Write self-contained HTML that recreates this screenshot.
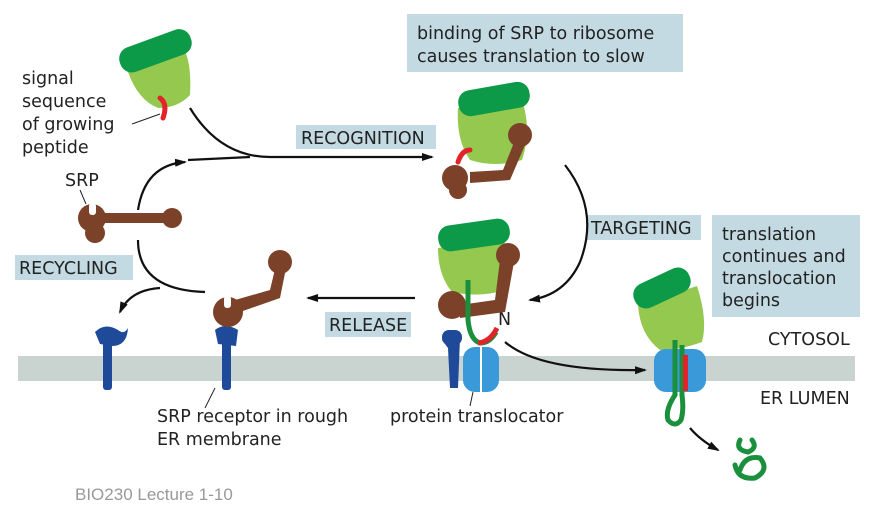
<!DOCTYPE html>
<html><head><style>
body{margin:0;background:#fff}
svg{display:block}
text{font-family:"DejaVu Sans","Liberation Sans",sans-serif;fill:#222}
</style></head><body>
<svg width="870" height="508" viewBox="0 0 870 508" xmlns="http://www.w3.org/2000/svg">
<defs>
<marker id="ah" markerWidth="12" markerHeight="10" refX="10" refY="5" orient="auto" markerUnits="userSpaceOnUse"><path d="M0,1 L12,5 L0,9 Z" fill="#111"/></marker>
</defs>
<rect x="18" y="356" width="837" height="25" fill="#c9d3cf"/>
<rect x="407" y="14" width="276" height="58" fill="#c4dae3"/>
<text x="417" y="39" font-size="17.5">binding of SRP to ribosome</text>
<text x="417" y="62" font-size="17.5">causes translation to slow</text>
<rect x="296" y="125" width="140" height="24" fill="#c4dae3"/>
<text x="301" y="144" font-size="17.5">RECOGNITION</text>
<rect x="586" y="215" width="115" height="25" fill="#c4dae3"/>
<text x="591" y="234" font-size="17.5">TARGETING</text>
<rect x="712" y="215" width="148" height="102" fill="#c4dae3"/>
<text x="722" y="240" font-size="17.5">translation</text>
<text x="722" y="262" font-size="17.5">continues and</text>
<text x="722" y="284" font-size="17.5">translocation</text>
<text x="722" y="306" font-size="17.5">begins</text>
<rect x="325" y="312" width="86" height="25" fill="#c4dae3"/>
<text x="329" y="331" font-size="17.5">RELEASE</text>
<rect x="15" y="255" width="118" height="25" fill="#c4dae3"/>
<text x="19" y="274" font-size="17.5">RECYCLING</text>
<text x="22" y="84" font-size="17.5">signal</text>
<text x="22" y="107" font-size="17.5">sequence</text>
<text x="22" y="130" font-size="17.5">of growing</text>
<text x="22" y="153" font-size="17.5">peptide</text>
<text x="65" y="186" font-size="17.5">SRP</text>
<text x="768" y="345" font-size="17.5">CYTOSOL</text>
<text x="760" y="404" font-size="17.5">ER LUMEN</text>
<text x="157" y="422" font-size="17.5">SRP receptor in rough</text>
<text x="157" y="445" font-size="17.5">ER membrane</text>
<text x="390" y="422" font-size="17.5">protein translocator</text>
<text x="498" y="325" font-size="17.5">N</text>
<text x="75" y="500" font-size="17" style="fill:#999;font-family:'Liberation Sans',sans-serif">BIO230 Lecture 1-10</text>
<line x1="132" y1="124" x2="160" y2="114" stroke="#222"/>
<line x1="80" y1="190" x2="86" y2="204" stroke="#222"/>
<line x1="205" y1="408" x2="215" y2="388" stroke="#222"/>
<line x1="470" y1="406" x2="473" y2="392" stroke="#222"/>
<g fill="none" stroke="#111" stroke-width="2.2">
<path d="M190,108 Q220,157 270,157 L432,157" marker-end="url(#ah)"/>
<path d="M138,210 Q145,165 185,162" marker-end="url(#ah)"/>
<path d="M188,160 L250,157"/>
<path d="M565,165 Q600,210 580,262 Q565,295 530,300" marker-end="url(#ah)"/>
<path d="M415,298 L308,298" marker-end="url(#ah)"/>
<path d="M138,240 Q138,290 205,292"/>
<path d="M160,288 Q130,290 120,312" marker-end="url(#ah)"/>
<path d="M505,342 Q540,372 645,370" marker-end="url(#ah)"/>
<path d="M690,428 Q700,440 718,450" marker-end="url(#ah)"/>
</g>
<!-- ribosome 1 -->
<path d="M128,72 L182,46 Q192,60 190,95 Q178,108 158,108 Q138,100 128,72Z" fill="#95c84f"/>
<rect x="118" y="38" width="75" height="26" rx="12" fill="#0d9a48" transform="rotate(-20 155 51)"/>
<path d="M160,98 Q168,104 163,118" stroke="#e2232a" stroke-width="5" fill="none" stroke-linecap="round"/>
<!-- SRP free -->
<g fill="#7b4129">
<circle cx="92" cy="218" r="14"/>
<rect x="95" y="213" width="75" height="10"/>
<circle cx="172" cy="218" r="10"/>
<circle cx="95" cy="233" r="10"/>
</g>
<rect x="89" y="203" width="7" height="12" rx="3" fill="#fff"/>
<!-- ribosome 2 -->
<path d="M458,108 L522,100 Q532,130 522,160 Q495,168 470,160 Q456,140 458,108Z" fill="#95c84f"/>
<rect x="458" y="86" width="72" height="26" rx="12" fill="#0d9a48" transform="rotate(-10 494 99)"/>
<g fill="#7b4129">
<circle cx="520" cy="135" r="12"/>
<path d="M515,140 L503,170 L470,172 L470,183 L510,180 L525,145Z"/>
<circle cx="455" cy="178" r="13"/>
<circle cx="458" cy="190" r="9"/>
</g>
<path d="M458,162 Q462,150 470,150" stroke="#e2232a" stroke-width="5" fill="none" stroke-linecap="round"/>
<!-- ribosome 3 -->
<path d="M438,248 L504,240 Q512,270 505,290 Q480,298 452,292 Q438,275 438,248Z" fill="#95c84f"/>
<rect x="438" y="222" width="72" height="26" rx="12" fill="#0d9a48" transform="rotate(-8 474 235)"/>
<g fill="#7b4129">
<circle cx="508" cy="255" r="12"/>
<path d="M500,260 L495,300 L460,305 L460,318 L505,312 L514,262Z"/>
<circle cx="452" cy="305" r="14"/>
</g>
<path d="M468,280 L468,320 Q470,340 480,343 Q490,343 496,332" stroke="#1a8f3c" stroke-width="5" fill="none"/>
<path d="M478,343 Q490,342 497,328" stroke="#e2232a" stroke-width="5" fill="none"/>
<path d="M442,340 Q450,330 460,338 L458,388 L450,388 L448,348 Z" fill="#1f4a99"/>
<rect x="442" y="330" width="20" height="15" rx="7" fill="#1f4a99"/>
<rect x="463" y="347" width="36" height="45" rx="12" fill="#3a9ad9"/>
<rect x="480" y="347" width="2" height="45" fill="#fff"/>
<!-- receptors -->
<g fill="#1f4a99">
<rect x="103" y="340" width="9" height="50" rx="3"/>
<path d="M95,332 Q105,322 118,330 Q124,335 128,328 Q127,346 112,346 L100,344Z"/>
<rect x="222" y="338" width="9" height="52" rx="3"/>
<path d="M215,330 Q225,322 238,330 L236,346 L218,344Z"/>
</g>
<!-- SRP on receptor -->
<g fill="#7b4129">
<circle cx="228" cy="312" r="15"/>
<path d="M235,300 L270,290 L276,265 L286,268 L280,298 L240,312Z"/>
<circle cx="280" cy="262" r="12"/>
</g>
<rect x="224" y="296" width="7" height="12" rx="3" fill="#fff"/>
<!-- ribosome 4 -->
<path d="M638,305 L697,286 Q708,320 702,342 Q680,350 660,350 Q640,335 638,305Z" fill="#95c84f"/>
<rect x="632" y="275" width="60" height="26" rx="12" fill="#0d9a48" transform="rotate(-25 662 288)"/>
<rect x="654" y="349" width="52" height="43" rx="12" fill="#3a9ad9"/>
<path d="M675,340 L675,395 Q665,410 668,420 Q675,428 681,420 Q684,410 682,395 L682,345" stroke="#1a8f3c" stroke-width="5" fill="none"/>
<rect x="683" y="355" width="5" height="36" fill="#e2232a"/>
<path d="M740,440 Q735,450 748,452 Q758,448 752,440 M735,465 Q738,480 755,478 Q770,470 760,458 Q745,455 740,470" stroke="#1a8f3c" stroke-width="5" fill="none" stroke-linecap="round"/>
</svg>
</body></html>
